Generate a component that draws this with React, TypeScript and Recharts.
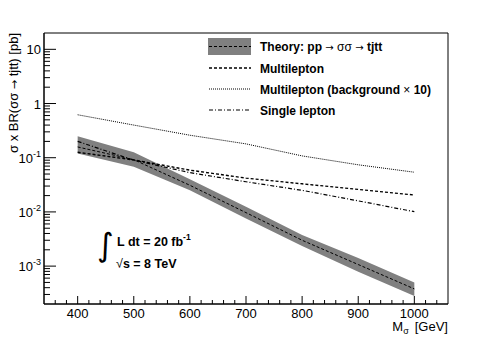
import React from 'react';
import { ComposedChart, Line, Area, XAxis, YAxis, ReferenceArea } from 'recharts';

// mass points [GeV]
const masses = [400, 500, 600, 700, 800, 900, 1000];

// cross sections [pb]
const theoryXsec = [0.158, 0.092, 0.031, 0.0097, 0.003, 0.00107, 0.00038];
const theoryUp = [0.25, 0.126, 0.04, 0.0125, 0.00375, 0.00141, 0.0005];
const theoryDown = [0.12, 0.068, 0.025, 0.0076, 0.00235, 0.00079, 0.00028];
const multilepton = [0.126, 0.091, 0.059, 0.042, 0.033, 0.026, 0.0205];
const multileptonBkg10 = [0.62, 0.4, 0.26, 0.18, 0.108, 0.074, 0.054];
const singleLepton = [0.2, 0.09, 0.053, 0.036, 0.025, 0.016, 0.0101];

// axis ticks
const xMajorTicks = [400, 500, 600, 700, 800, 900, 1000];
const xMinorTicks = [360, 380, 420, 440, 460, 480, 520, 540, 560, 580, 620, 640, 660, 680,
  720, 740, 760, 780, 820, 840, 860, 880, 920, 940, 960, 980, 1020, 1040];
const yMajorTicks = [10, 1, 0.1, 0.01, 0.001];
const yMajorBase = ['10', '1', '10', '10', '10'];
const yMajorExp = ['', '', '-1', '-2', '-3'];

const FONT = '"Liberation Sans", Arial, Helvetica, sans-serif';
const SYM = '"DejaVu Sans", sans-serif';

const yMinorTicks: number[] = [];
[0.0001, 0.001, 0.01, 0.1, 1, 10].forEach((d) => {
  for (let k = 2; k <= 9; k++) {
    const v = d * k;
    if (v > 0.0002 && v < 20) yMinorTicks.push(+v.toPrecision(3));
  }
});

const data = masses.map((m, i) => ({
  mass: m,
  theory: theoryXsec[i],
  band: [theoryDown[i], theoryUp[i]],
  multi: multilepton[i],
  bkg: multileptonBkg10[i],
  single: singleLepton[i],
}));

const XTick = (props: any) => {
  const { x, y, payload } = props;
  const major = xMajorTicks.includes(payload.value);
  return (
    <g>
      <line x1={x} x2={x} y1={y} y2={y - (major ? 8 : 4)} stroke="#000" strokeWidth={1} />
      {major && (
        <text x={x} y={y + 14} textAnchor="middle" fontSize={13} fontFamily={FONT} fill="#000">
          {payload.value}
        </text>
      )}
    </g>
  );
};

const YTick = (props: any) => {
  const { x, y, payload } = props;
  const idx = yMajorTicks.findIndex((t) => Math.abs(t - payload.value) / t < 1e-6);
  const major = idx >= 0;
  return (
    <g>
      <line x1={x} x2={x + (major ? 12 : 6)} y1={y} y2={y} stroke="#000" strokeWidth={1} />
      {major && (
        <text x={x - 3} y={y + 5} textAnchor="end" fontSize={13} fontFamily={FONT} fill="#000">
          {yMajorBase[idx]}
          {yMajorExp[idx] && (
            <tspan fontSize={9} dy={-6}>{yMajorExp[idx]}</tspan>
          )}
        </text>
      )}
    </g>
  );
};

const Overlay = () => (
  <svg width={498} height={338} style={{ position: 'absolute', left: 0, top: 0, pointerEvents: 'none' }}>
    {/* y axis title */}
    <text
      transform="translate(18,33) rotate(-90)"
      textAnchor="end"
      fontSize={13}
      fontFamily={FONT}
      fill="#000"
    >
      σ x BR(σσ <tspan fontFamily={SYM} fontSize={11}>→</tspan> tjtt) [pb]
    </text>
    {/* x axis title */}
    <text x={448} y={331} textAnchor="end" fontSize={13} fontFamily={FONT} fill="#000">
      M<tspan fontSize={9} dy={3}>σ</tspan>
      <tspan dy={-3} dx={6}>[GeV]</tspan>
    </text>

    {/* legend */}
    <rect x={208} y={38} width={43} height={17} fill="#808080" />
    <line x1={209} x2={251} y1={46.5} y2={46.5} stroke="#000" strokeDasharray="3 2" strokeWidth={1} />
    <text x={260} y={51} fontSize={12} fontWeight="bold" fontFamily={FONT} fill="#000">
      Theory: pp <tspan fontWeight="normal" fontFamily={SYM} fontSize={10}>→</tspan>
      <tspan fontWeight="normal"> σσ </tspan>
      <tspan fontWeight="normal" fontFamily={SYM} fontSize={10}>→</tspan> tjtt
    </text>
    <line x1={209} x2={251} y1={68} y2={68} stroke="#000" strokeDasharray="3 2" strokeWidth={1.4} />
    <text x={260} y={72.5} fontSize={12} fontWeight="bold" fontFamily={FONT} fill="#000">
      Multilepton
    </text>
    <line x1={209} x2={251} y1={89} y2={89} stroke="#000" strokeDasharray="1 1" strokeWidth={1} />
    <text x={260} y={93.5} fontSize={12} fontWeight="bold" fontFamily={FONT} fill="#000">
      Multilepton (background <tspan fontWeight="normal">×</tspan> 10)
    </text>
    <line x1={209} x2={251} y1={110} y2={110} stroke="#000" strokeDasharray="4 2 1 2" strokeWidth={1.2} />
    <text x={260} y={114.5} fontSize={12} fontWeight="bold" fontFamily={FONT} fill="#000">
      Single lepton
    </text>

    {/* luminosity / energy */}
    <text x={97} y={256} fontSize={32} fontFamily={SYM} fill="#000">∫</text>
    <text x={117} y={246} fontSize={12.5} fontWeight="bold" fontFamily={FONT} fill="#000">
      L dt = 20 fb<tspan fontSize={8.5} dy={-6}>-1</tspan>
    </text>
    <text x={116} y={268} fontSize={12.5} fontWeight="bold" fontFamily={FONT} fill="#000">
      <tspan fontWeight="normal">√</tspan>s = 8 TeV
    </text>
  </svg>
);

export default function App() {
  return (
    <div style={{ position: 'absolute', left: 0, top: 0, width: 498, height: 338, background: '#fff' }}>
      <ComposedChart
        width={498}
        height={338}
        data={data}
        margin={{ top: 33, right: 50, bottom: 0, left: 0 }}
      >
        <XAxis
          dataKey="mass"
          type="number"
          domain={[340, 1060]}
          ticks={[...xMinorTicks, ...xMajorTicks].sort((a, b) => a - b)}
          interval={0}
          height={34}
          tickSize={0}
          tickMargin={0}
          tick={<XTick />}
          axisLine={{ stroke: '#000' }}
          allowDataOverflow
        />
        <YAxis
          type="number"
          scale="log"
          domain={[0.0002, 20]}
          ticks={[...yMinorTicks, ...yMajorTicks].sort((a, b) => a - b)}
          interval={0}
          width={44}
          tickSize={0}
          tickMargin={0}
          tick={<YTick />}
          axisLine={{ stroke: '#000' }}
          allowDataOverflow
        />
        <ReferenceArea x1={340} x2={1060} y1={0.0002} y2={20} fill="none" stroke="#000" strokeWidth={1} ifOverflow="visible" />
        <Area
          dataKey="band"
          type="linear"
          fill="#808080"
          fillOpacity={1}
          stroke="none"
          isAnimationActive={false}
        />
        <Line dataKey="theory" type="linear" stroke="#000" strokeWidth={1} strokeDasharray="3 2" dot={false} isAnimationActive={false} />
        <Line dataKey="multi" type="linear" stroke="#000" strokeWidth={1.4} strokeDasharray="3 2" dot={false} isAnimationActive={false} />
        <Line dataKey="bkg" type="linear" stroke="#000" strokeWidth={1} strokeDasharray="1 1" dot={false} isAnimationActive={false} />
        <Line dataKey="single" type="linear" stroke="#000" strokeWidth={1.2} strokeDasharray="4 2 1 2" dot={false} isAnimationActive={false} />
      </ComposedChart>
      <Overlay />
    </div>
  );
}
